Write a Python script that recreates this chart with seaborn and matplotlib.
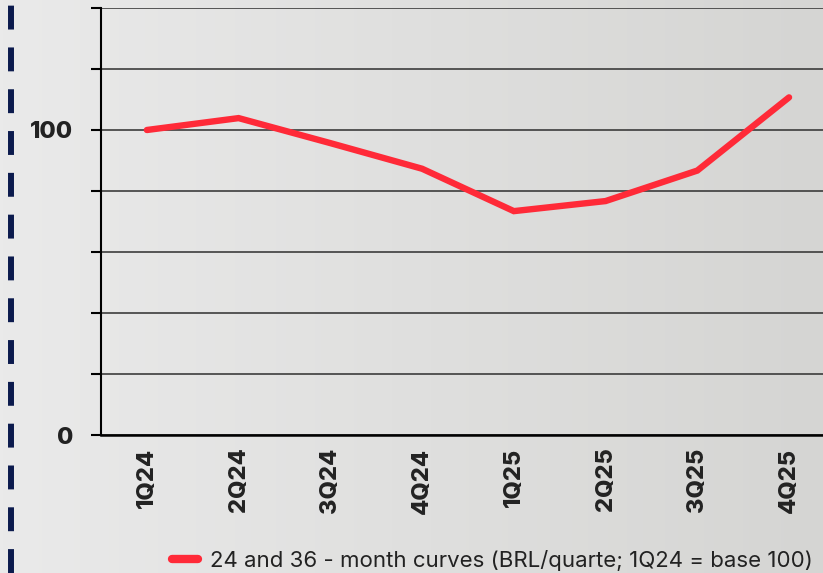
import numpy as np
import pandas as pd
import seaborn as sns
import matplotlib.pyplot as plt
from matplotlib.lines import Line2D
from matplotlib.colors import LinearSegmentedColormap

quarters = ["1Q24", "2Q24", "3Q24", "4Q24", "1Q25", "2Q25", "3Q25", "4Q25"]
curve_values = [100, 103.9, 95.7, 87.3, 73.4, 76.7, 86.7, 110.7]
series_label = "24 and 36 - month curves (BRL/quarte; 1Q24 = base 100)"
y_ticks = [0, 20, 40, 60, 80, 100, 120, 140]
y_tick_labels = ["0", "", "", "", "", "100", "", ""]


def main():
    sns.set_theme(style="white")
    plt.rcParams["font.family"] = ["Inter", "DejaVu Sans"]

    df = pd.DataFrame({"quarter": quarters, "value": curve_values, "series": series_label})

    fig = plt.figure(figsize=(8.23, 5.73), dpi=100)

    # gradient background
    bg = fig.add_axes([0, 0, 1, 1], zorder=-10)
    grad = np.linspace(0, 1, 256).reshape(1, -1)
    cmap = LinearSegmentedColormap.from_list("bg", ["#eaeaea", "#d5d5d3"])
    bg.imshow(grad, aspect="auto", cmap=cmap, extent=[0, 1, 0, 1])
    bg.set_axis_off()

    # dashed navy bar at the left edge
    fig.add_artist(Line2D([11 / 823, 11 / 823], [0, 1 - 5 / 573], transform=fig.transFigure,
                          color="#0b1a4d", lw=4.3, dashes=(4.0, 3.0), dash_capstyle="butt"))

    ax = fig.add_axes([101 / 823, 138 / 573, 1 - 101 / 823, (435 - 8) / 573])
    ax.patch.set_alpha(0)

    sns.lineplot(data=df, x="quarter", y="value", hue="series", palette=["#ff2a38"],
                 linewidth=4.6, ax=ax, sort=False, solid_capstyle="round", solid_joinstyle="miter")

    ax.set_ylim(0, 140)
    ax.set_xlim(-0.5, 7.37)
    ax.set_yticks(y_ticks)
    ax.set_yticklabels(y_tick_labels)
    ax.yaxis.grid(True, color="#2e2e2e", linewidth=1.1)
    ax.set_axisbelow(True)
    ax.set_xlabel("")
    ax.set_ylabel("")

    for s in ["top", "right"]:
        ax.spines[s].set_visible(False)
    ax.spines["left"].set_color("black")
    ax.spines["left"].set_linewidth(1.5)
    ax.spines["bottom"].set_color("black")
    ax.spines["bottom"].set_linewidth(1.8)

    ax.tick_params(axis="y", left=True, length=7, width=1.5, color="black", pad=13,
                   labelsize=17, labelcolor="#222222")
    ax.tick_params(axis="x", bottom=False, pad=3, labelsize=17, labelcolor="#222222")
    for lab in ax.get_yticklabels():
        lab.set_fontweight(800)
    for lab in ax.get_xticklabels():
        lab.set_fontweight(800)
        lab.set_rotation(90)

    ax.legend_.remove()
    handle = Line2D([], [], color="#ff2a38", lw=6, solid_capstyle="round")
    fig.legend([handle], [series_label], loc="center", bbox_to_anchor=(0.598, 0.022),
               frameon=False, fontsize=16, handlelength=1.2, handletextpad=0.5,
               labelcolor="#222222")

    fig.savefig("out.png", dpi=100)


if __name__ == "__main__":
    main()
